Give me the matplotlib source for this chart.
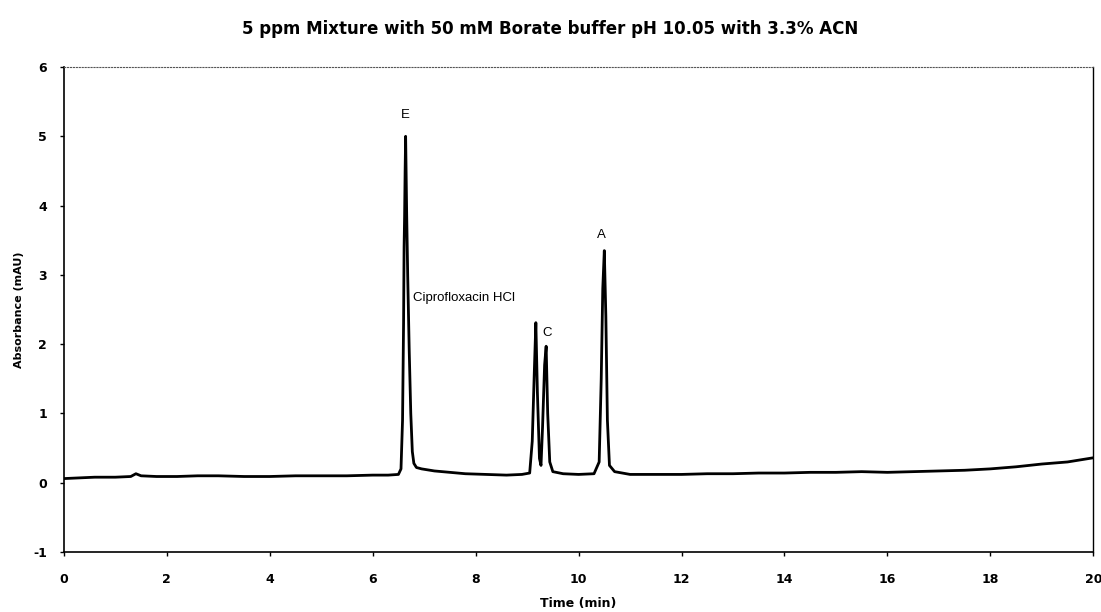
import matplotlib.pyplot as plt

plt.rcParams['font.family'] = ['DejaVu Sans']
plt.rcParams['axes.unicode_minus'] = False

# Trace (time in min, absorbance in mAU)
time_min = [0.0, 0.3, 0.6, 1.0, 1.3, 1.4, 1.5, 1.8, 2.2, 2.6, 3.0, 3.5, 4.0, 4.5,
            5.0, 5.5, 6.0, 6.3, 6.50, 6.55, 6.58, 6.60, 6.61, 6.62, 6.63, 6.64,
            6.66, 6.68, 6.71, 6.74, 6.77, 6.80, 6.85, 6.95, 7.2, 7.5, 7.8, 8.2,
            8.6, 8.9, 9.05, 9.10, 9.14, 9.17, 9.20, 9.24, 9.27, 9.30, 9.34,
            9.37, 9.40, 9.44, 9.50, 9.7, 10.0, 10.3, 10.40, 10.44, 10.47,
            10.50, 10.53, 10.56, 10.60, 10.70, 11.0, 11.5, 12.0, 12.5, 13.0,
            13.5, 14.0, 14.5, 15.0, 15.5, 16.0, 16.5, 17.0, 17.5, 18.0, 18.5,
            19.0, 19.5, 20.0]
absorbance = [0.06, 0.07, 0.08, 0.08, 0.09, 0.13, 0.10, 0.09, 0.09, 0.10, 0.10,
              0.09, 0.09, 0.10, 0.10, 0.10, 0.11, 0.11, 0.12, 0.2, 0.9, 2.3,
              3.4, 3.85, 4.5, 5.0, 3.9, 3.0, 1.9, 1.0, 0.45, 0.28, 0.22, 0.20,
              0.17, 0.15, 0.13, 0.12, 0.11, 0.12, 0.14, 0.6, 1.6, 2.31, 1.3,
              0.35, 0.25, 0.8, 1.7, 1.97, 1.0, 0.3, 0.16, 0.13, 0.12, 0.13,
              0.3, 1.5, 2.8, 3.35, 2.4, 0.9, 0.25, 0.16, 0.12, 0.12, 0.12,
              0.13, 0.13, 0.14, 0.14, 0.15, 0.15, 0.16, 0.15, 0.16, 0.17, 0.18,
              0.20, 0.23, 0.27, 0.30, 0.36]

peak_labels = ['E', 'Ciprofloxacin HCl', 'C', 'A']
label_x = [6.63, 6.78, 9.38, 10.44]
label_y = [5.31, 2.67, 2.16, 3.58]

fig = plt.figure(figsize=(11.01, 6.12), dpi=100)
ax = fig.add_axes([0.058, 0.098, 0.935, 0.7925])

ax.plot(time_min, absorbance, color='black', linewidth=2.0)

for txt, x, y in zip(peak_labels, label_x, label_y):
    ha = 'left' if txt == 'Ciprofloxacin HCl' else 'center'
    ax.text(x, y, txt, fontsize=9.5, ha=ha, va='center', family='Liberation Sans')

ax.set_xlim(0, 20)
ax.set_ylim(-1, 6)
ax.set_xticks(range(0, 21, 2))
ax.set_yticks(range(-1, 7))
ax.tick_params(direction='out', length=3, width=1, labelsize=9)
ax.tick_params(axis='x', pad=12)
ax.tick_params(axis='y', pad=9)
for lab in ax.get_xticklabels() + ax.get_yticklabels():
    lab.set_fontweight('bold')

ax.spines['top'].set_linestyle(':')
ax.spines['top'].set_color('#555555')
ax.spines['top'].set_linewidth(0.8)
ax.spines['right'].set_linewidth(1.0)
ax.spines['left'].set_linewidth(1.2)
ax.spines['bottom'].set_linewidth(1.2)

ax.set_xlabel('Time (min)', fontsize=9, fontweight='bold', labelpad=8)
ax.set_ylabel('Absorbance (mAU)', fontsize=8, fontweight='bold', labelpad=7)
fig.suptitle('5 ppm Mixture with 50 mM Borate buffer pH 10.05 with 3.3% ACN',
             fontsize=12, fontweight='bold', y=0.967)

plt.savefig('out.png', dpi=100)
